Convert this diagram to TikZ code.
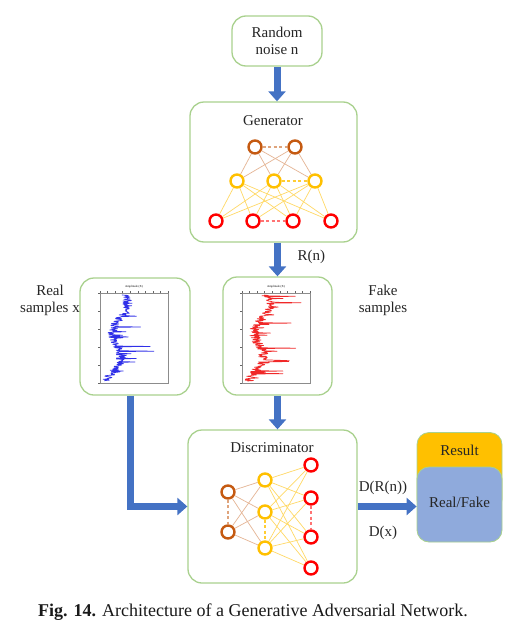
\documentclass[tikz,border=0pt]{standalone}
\usepackage{fontspec}
\setmainfont{Liberation Serif}
\usetikzlibrary{arrows.meta}
\definecolor{boxgreen}{HTML}{A9D18E}
\definecolor{arrowblue}{HTML}{4472C4}
\definecolor{nbrown}{HTML}{C55A11}
\definecolor{nyellow}{HTML}{FFC000}
\definecolor{nred}{HTML}{FF0000}
\definecolor{resgold}{HTML}{FFC000}
\definecolor{resblue}{HTML}{8FAADC}
\definecolor{sigblue}{HTML}{3030E8}
\definecolor{sigred}{HTML}{F02828}
\tikzset{
  panel/.style={draw=boxgreen, line width=1.3pt, rounded corners=14pt, fill=white},
  bigarrow/.style={draw=arrowblue, line width=7pt, -{Triangle[width=17pt,length=10pt]}},
  neuron/.style={circle, draw=#1, line width=2.4pt, minimum size=13pt, inner sep=0pt, fill=white},
  lbl/.style={font=\fontsize{15}{17}\selectfont, align=center, text=black!85},
  brlink/.style={line width=0.7pt, draw=nbrown!45},
  yelink/.style={line width=0.7pt, draw=nyellow!60},
  dashlink/.style={line width=1.4pt, dash pattern=on 3pt off 2.5pt, draw=#1},
}
\newcommand{\sigplot}[4]{%
  % #1 left x, #2 colour, #3 seed, #4 name suffix
  \draw[black!45, line width=0.3pt] (#1,293) rectangle ++(68,90);
  \foreach \k in {0,...,9} \draw[black!60, line width=0.4pt] ({#1+\k*68/9},293) -- ++(0,-2);
  \foreach \k in {0,...,5} \draw[black!60, line width=0.4pt] (#1,{293+\k*18}) -- ++(-2,0);
  \node[font=\fontsize{3}{3}\selectfont, inner sep=0pt] (ttl#4) at (#1+34,287) {Amplitude (X)};
  \pgfmathsetseed{#3}
  \draw[#2, line width=0.7pt, line join=round]
    plot[variable=\t, samples=200, domain=2:88]
    ({min(#1+67, #1+23+6*sin(\t*7)-0.12*\t+5*rand+12*(rnd>0.93)+30*(rnd>0.985))}, {293+\t});
}
\begin{document}
\begin{tikzpicture}[x=1pt, y=-1pt]
\useasboundingbox (0,0) rectangle (506,632);

% boxes
\node[panel, minimum width=90pt, minimum height=50pt] (noise) at (277,41) {};
\node[lbl] (noisetxt) at (277,41) {Random\\noise n};
\node[panel, minimum width=167pt, minimum height=140pt] (gen) at (273.5,172) {};
\node[lbl] (gentxt) at (273,121) {Generator};
\node[panel, minimum width=110pt, minimum height=117pt] (real) at (135,336.5) {};
\node[panel, minimum width=109pt, minimum height=118pt] (fake) at (277.5,336) {};
\node[panel, minimum width=169pt, minimum height=153pt] (disc) at (272.5,506.5) {};
\node[lbl] (disctxt) at (272,448) {Discriminator};

% result
\node[draw=boxgreen, line width=0.8pt, fill=resgold, rounded corners=12pt, minimum width=85pt, minimum height=79pt] (res) at (459.5,472) {};
\node[lbl] (restxt) at (459.5,450) {Result};
\node[draw=boxgreen, line width=0.8pt, fill=resblue, rounded corners=12pt, minimum width=85pt, minimum height=75pt] (rf) at (459.5,504.5) {};
\node[lbl] (rftxt) at (459.5,502) {Real/Fake};

% labels
\node[lbl] (reallbl) at (50,300) {Real\\samples x};
\node[lbl] (fakelbl) at (383,300) {Fake\\samples};
\node[lbl, anchor=west] (rnlbl) at (294,257) {R(n)};
\node[lbl] (drnlbl) at (383,488) {D(R(n))};
\node[lbl] (dxlbl) at (383,533) {D(x)};

% plots
\sigplot{100}{sigblue}{7}{r}
\sigplot{242}{sigred}{23}{f}

% arrows
\draw[bigarrow] (noise.south) -- (noise.south |- gen.north);
\draw[bigarrow] (gen.south -| fake.north) -- (fake.north);
\draw[bigarrow] (fake.south) -- (fake.south |- disc.north);
\draw[bigarrow, rounded corners=0pt] ([xshift=-5pt]real.south) |- (disc.west);
\draw[bigarrow] (disc.east) -- (rf.west |- disc.east);

% generator network
\node[neuron=nbrown] (g1) at (255,147) {};
\node[neuron=nbrown] (g2) at (295,147) {};
\node[neuron=nyellow] (gy1) at (237,181) {};
\node[neuron=nyellow] (gy2) at (274,181) {};
\node[neuron=nyellow] (gy3) at (315,181) {};
\node[neuron=nred] (gr1) at (216,221) {};
\node[neuron=nred] (gr2) at (253,221) {};
\node[neuron=nred] (gr3) at (293,221) {};
\node[neuron=nred] (gr4) at (331,221) {};
\foreach \a in {g1,g2} \foreach \b in {gy1,gy2,gy3} \draw[brlink] (\a) -- (\b);
\foreach \a in {gy1,gy2,gy3} \foreach \b in {gr1,gr2,gr3,gr4} \draw[yelink] (\a) -- (\b);
\draw[dashlink=nbrown!55] (g1) -- (g2);
\draw[dashlink=nyellow!80] (gy2) -- (gy3);
\draw[dashlink=nred!55] (gr2) -- (gr3);

% discriminator network
\node[neuron=nbrown] (db1) at (228,492) {};
\node[neuron=nbrown] (db2) at (228,532) {};
\node[neuron=nyellow] (dy1) at (265,480) {};
\node[neuron=nyellow] (dy2) at (265,512) {};
\node[neuron=nyellow] (dy3) at (265,548) {};
\node[neuron=nred] (dr1) at (311,465) {};
\node[neuron=nred] (dr2) at (311,498) {};
\node[neuron=nred] (dr3) at (311,537) {};
\node[neuron=nred] (dr4) at (311,568) {};
\foreach \a in {db1,db2} \foreach \b in {dy1,dy2,dy3} \draw[brlink] (\a) -- (\b);
\foreach \a in {dy1,dy2,dy3} \foreach \b in {dr1,dr2,dr3,dr4} \draw[yelink] (\a) -- (\b);
\draw[dashlink=nbrown!55] (db1) -- (db2);
\draw[dashlink=nyellow!80] (dy2) -- (dy3);
\draw[dashlink=nred!55] (dr2) -- (dr3);

% caption
\node[font=\fontsize{18}{21}\selectfont, text=black!90] (cap) at (253,612) {\textbf{Fig. 14.} Architecture of a Generative Adversarial Network.};
\end{tikzpicture}
\end{document}
